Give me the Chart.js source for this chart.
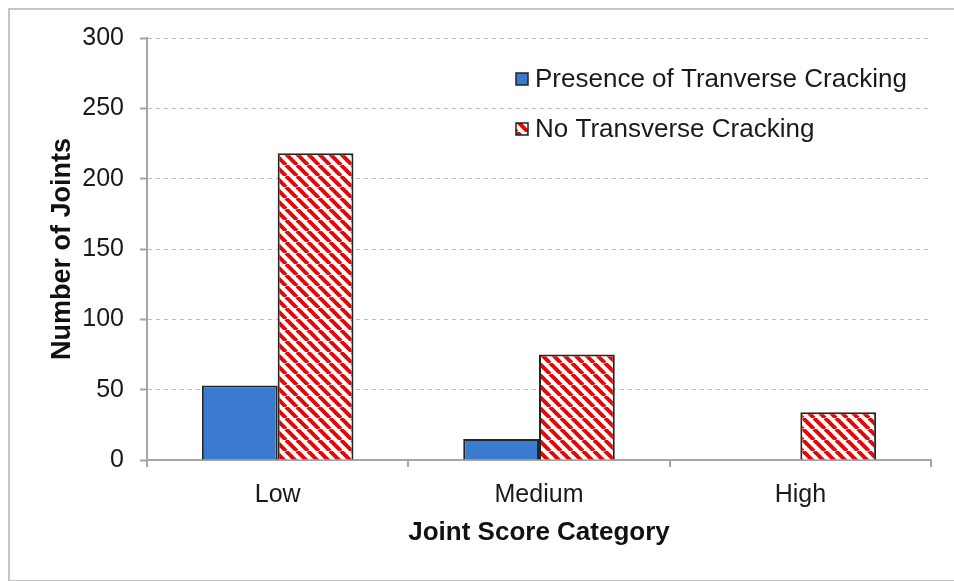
<!DOCTYPE html>
<html>
<head>
<meta charset="utf-8">
<script src="https://cdn.jsdelivr.net/npm/chart.js@4/dist/chart.umd.min.js"></script>
<style>
  html, body { margin: 0; padding: 0; background: #fff; }
  #frame { position: absolute; left: 8px; top: 8px; width: 960px; height: 570px; border: 2px solid #c4c4c4; }
  #c { position: absolute; left: 0; top: 0; }
</style>
</head>
<body>
<div id="frame"></div>
<canvas id="c" width="954" height="581"></canvas>
<script>
// chart data
const categories = ['Low', 'Medium', 'High'];
const seriesNames = ['Presence of Tranverse Cracking', 'No Transverse Cracking'];
const crackedJoints = [53, 15, 0];
const uncrackedJoints = [218, 75, 34];
const yTicks = [0, 50, 100, 150, 200, 250, 300];

const FONT = "'Liberation Sans', Arial, sans-serif";
const TEXT = '#1a1a1a';

// red / white diagonal hatch
function makeHatch() {
  const s = 11;
  const c = document.createElement('canvas');
  c.width = s; c.height = s;
  const g = c.getContext('2d');
  g.fillStyle = '#fff';
  g.fillRect(0, 0, s, s);
  g.strokeStyle = '#e00a0a';
  g.lineWidth = 4;
  for (let x = -s; x <= s; x += s) {
    g.beginPath();
    g.moveTo(x, 0);
    g.lineTo(x + s, s);
    g.stroke();
  }
  return g.createPattern(c, 'repeat');
}
const hatch = makeHatch();
const blue = '#3a7bd0';

// legend drawn inside the plot, top right
const insideLegend = {
  id: 'insideLegend',
  afterDraw(chart) {
    const ctx = chart.ctx;
    const items = chart.data.datasets;
    ctx.save();
    ctx.font = '26px ' + FONT;
    ctx.textBaseline = 'middle';
    items.forEach((ds, i) => {
      const y = 79 + i * 50;
      ctx.fillStyle = ds.backgroundColor;
      ctx.fillRect(516, y - 6, 12, 12);
      ctx.strokeStyle = '#222';
      ctx.lineWidth = 1.5;
      ctx.strokeRect(516, y - 6, 12, 12);
      ctx.fillStyle = TEXT;
      ctx.fillText(ds.label, 535, y + 1);
    });
    ctx.restore();
  }
};

new Chart(document.getElementById('c'), {
  type: 'bar',
  data: {
    labels: categories,
    datasets: [
      { label: seriesNames[0], data: crackedJoints, backgroundColor: blue, borderColor: '#262626', borderWidth: 2 },
      { label: seriesNames[1], data: uncrackedJoints, backgroundColor: hatch, borderColor: '#262626', borderWidth: 2 }
    ]
  },
  options: {
    responsive: false,
    animation: false,
    events: [],
    layout: { padding: { top: 38, right: 23, left: 0, bottom: 0 } },
    datasets: { bar: { categoryPercentage: 0.58, barPercentage: 1 } },
    plugins: { legend: { display: false }, tooltip: { enabled: false } },
    scales: {
      x: {
        afterFit(scale) { scale.height = 121; },
        grid: { drawOnChartArea: false, tickLength: 7, tickColor: '#a6a6a6', lineWidth: 2, offset: true },
        border: { color: '#a6a6a6', width: 2 },
        ticks: { color: TEXT, font: { family: FONT, size: 25 }, padding: 13 },
        title: { display: true, text: 'Joint Score Category', color: '#111', font: { family: FONT, size: 26, weight: 'bold' }, padding: { top: 0, bottom: 33 } }
      },
      y: {
        min: 0, max: 300,
        afterFit(scale) { scale.width = 147; },
        afterBuildTicks(scale) { scale.ticks = yTicks.map(v => ({ value: v })); },
        grid: { color: '#bdbdbd', lineWidth: 1, tickLength: 7, tickColor: '#a6a6a6', tickBorderDash: [], tickWidth: 2 },
        border: { color: '#a6a6a6', width: 2, dash: [4, 4] },
        ticks: { color: TEXT, font: { family: FONT, size: 25 }, padding: 16 },
        title: { display: true, text: 'Number of Joints', color: '#111', font: { family: FONT, size: 27, weight: 'bold' }, padding: { top: 46, bottom: 0 } }
      }
    }
  },
  plugins: [insideLegend]
});
</script>
</body>
</html>
